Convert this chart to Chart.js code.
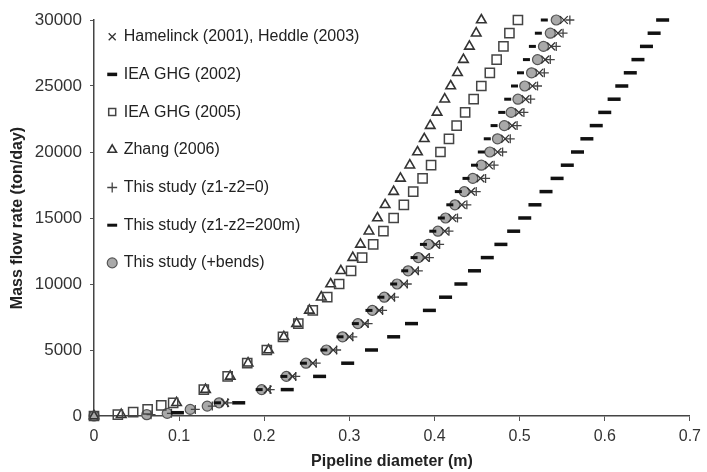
<!DOCTYPE html>
<html>
<head>
<meta charset="utf-8">
<script src="https://cdn.jsdelivr.net/npm/chart.js@4"></script>
<style>
  html, body { margin: 0; padding: 0; background: #fff; }
  #wrap { width: 707px; height: 472px; }
</style>
</head>
<body>
<div id="wrap"><canvas id="chartFlow"></canvas></div>
<script>
  // flow rate steps (ton/day) shared by most series
  const flowSteps = [1000, 2000, 3000, 4000, 5000, 6000, 7000, 8000, 9000, 10000,
    11000, 12000, 13000, 14000, 15000, 16000, 17000, 18000, 19000, 20000,
    21000, 22000, 23000, 24000, 25000, 26000, 27000, 28000, 29000, 30000];

  // pipeline diameter (m) read for each flow step
  const dHamelinck = [0.154, 0.204, 0.233, 0.257, 0.281, 0.300, 0.318, 0.335, 0.349, 0.364, 0.377, 0.389, 0.401, 0.412, 0.421, 0.432, 0.443, 0.454, 0.464, 0.474, 0.483, 0.491, 0.499, 0.507, 0.515, 0.523, 0.530, 0.537, 0.545, 0.552];
  const dIea2002 = [0.170, 0.227, 0.265, 0.298, 0.326, 0.352, 0.373, 0.394, 0.413, 0.431, 0.447, 0.462, 0.478, 0.493, 0.506, 0.518, 0.531, 0.544, 0.556, 0.568, 0.579, 0.590, 0.600, 0.611, 0.620, 0.630, 0.639, 0.649, 0.658, 0.668];
  const dIea2005 = [0.093, 0.129, 0.157, 0.180, 0.203, 0.222, 0.240, 0.257, 0.274, 0.288, 0.302, 0.315, 0.328, 0.340, 0.352, 0.364, 0.375, 0.386, 0.396, 0.407, 0.417, 0.426, 0.436, 0.446, 0.455, 0.465, 0.473, 0.481, 0.488, 0.498];
  const dZhang = [0.097, 0.131, 0.160, 0.181, 0.205, 0.223, 0.238, 0.253, 0.267, 0.278, 0.290, 0.304, 0.313, 0.323, 0.333, 0.342, 0.352, 0.360, 0.371, 0.380, 0.388, 0.395, 0.403, 0.412, 0.419, 0.427, 0.434, 0.441, 0.449, 0.455];
  const dStudyFlat = [0.157, 0.207, 0.237, 0.261, 0.285, 0.304, 0.322, 0.339, 0.353, 0.368, 0.381, 0.394, 0.406, 0.417, 0.427, 0.438, 0.449, 0.460, 0.470, 0.480, 0.489, 0.497, 0.505, 0.513, 0.521, 0.529, 0.536, 0.543, 0.551, 0.559];
  const dStudy200 = [0.145, 0.194, 0.223, 0.246, 0.270, 0.289, 0.307, 0.323, 0.337, 0.352, 0.365, 0.376, 0.387, 0.398, 0.408, 0.418, 0.428, 0.437, 0.447, 0.455, 0.462, 0.470, 0.479, 0.486, 0.494, 0.501, 0.508, 0.515, 0.522, 0.529];
  const dBends = [0.147, 0.197, 0.226, 0.249, 0.273, 0.292, 0.310, 0.327, 0.341, 0.356, 0.369, 0.381, 0.393, 0.404, 0.413, 0.424, 0.435, 0.445, 0.455, 0.465, 0.474, 0.482, 0.490, 0.498, 0.506, 0.514, 0.521, 0.528, 0.536, 0.543];

  // extra points below 1000 ton/day
  const lowFlowIea2002 = [250];
  const lowDIea2002 = [0.098];
  const lowFlowIea2005 = [0, 100, 300, 500, 800];
  const lowDIea2005 = [0, 0.028, 0.046, 0.063, 0.079];
  const lowFlowZhang = [0, 100];
  const lowDZhang = [0, 0.032];
  const lowFlowFlat = [100, 200, 500, 750];
  const lowDFlat = [0.067, 0.091, 0.119, 0.139];
  const lowFlowBends = [0, 100, 200, 500, 750];
  const lowDBends = [0, 0.062, 0.086, 0.113, 0.133];

  const seriesNames = ['Hamelinck (2001), Heddle (2003)', 'IEA GHG (2002)', 'IEA GHG (2005)',
    'Zhang (2006)', 'This study (z1-z2=0)', 'This study (z1-z2=200m)', 'This study (+bends)'];

  function pts(d, f) {
    return d.map((x, i) => ({x: x, y: f[i]}));
  }

  function marker(label, data, style, radius, color, fill, width) {
    return {
      label: label,
      data: data,
      showLine: false,
      clip: false,
      pointStyle: style,
      pointRadius: radius,
      pointHoverRadius: radius,
      borderColor: color,
      pointBorderColor: color,
      backgroundColor: fill,
      pointBackgroundColor: fill,
      borderWidth: width,
      pointBorderWidth: width
    };
  }

  const clear = 'rgba(255,255,255,0)';

  // the in-area legend starts at y=0, move it down under the top tick
  const legendNudge = {
    id: 'legendNudge',
    afterLayout(chart) {
      const lg = chart.legend;
      lg.top += 7; lg.bottom += 7;
      lg.left -= 7; lg.right -= 7;
    }
  };

  const ctx = document.getElementById('chartFlow');

  new Chart(ctx, {
    type: 'scatter',
    data: {
      datasets: [
        marker(seriesNames[0], pts(dHamelinck, flowSteps), 'crossRot', 5.5, '#333', clear, 1.3),
        marker(seriesNames[1], pts(lowDIea2002, lowFlowIea2002).concat(pts(dIea2002, flowSteps)), 'line', 6.5, '#111', '#111', 3.5),
        marker(seriesNames[2], pts(lowDIea2005, lowFlowIea2005).concat(pts(dIea2005, flowSteps)), 'rect', 6.5, '#444', clear, 1.5),
        marker(seriesNames[3], pts(lowDZhang, lowFlowZhang).concat(pts(dZhang, flowSteps)), 'triangle', 5.5, '#333', clear, 1.6),
        marker(seriesNames[4], pts(lowDFlat, lowFlowFlat).concat(pts(dStudyFlat, flowSteps)), 'cross', 4.5, '#444', clear, 1.3),
        marker(seriesNames[5], pts(dStudy200, flowSteps), 'line', 3.5, '#111', '#111', 3),
        marker(seriesNames[6], pts(lowDBends, lowFlowBends).concat(pts(dBends, flowSteps)), 'circle', 5, '#555', '#a9a9a9', 1.2)
      ]
    },
    plugins: [legendNudge],
    options: {
      responsive: true,
      maintainAspectRatio: false,
      animation: false,
      layout: { padding: { top: 20, right: 11, left: 0, bottom: 0 } },
      plugins: {
        tooltip: { enabled: false },
        legend: {
          position: 'chartArea',
          align: 'start',
          labels: {
            usePointStyle: true,
            boxWidth: 7,
            boxHeight: 7,
            padding: 21.7,
            color: '#222',
            font: { family: 'Liberation Sans', size: 16 }
          }
        }
      },
      scales: {
        x: {
          type: 'linear',
          min: 0,
          max: 0.7,
          afterFit(scale) { scale.height = 56; },
          border: { display: true, color: '#444', width: 1.5 },
          grid: { drawOnChartArea: false, drawTicks: true, tickLength: 5, color: '#555' },
          ticks: { stepSize: 0.1, padding: 6, color: '#333', font: { family: 'Liberation Sans', size: 16 } },
          title: { display: true, text: 'Pipeline diameter (m)', color: '#222', padding: { top: 0, bottom: 1 },
            font: { family: 'Liberation Sans', size: 16, weight: 'bold' } }
        },
        y: {
          min: 0,
          max: 30000,
          afterFit(scale) { scale.width = 94; },
          border: { display: true, color: '#444', width: 1.5 },
          grid: { drawOnChartArea: false, drawTicks: true, tickLength: 4, color: '#555' },
          ticks: { stepSize: 5000, padding: 8, color: '#333', font: { family: 'Liberation Sans', size: 17 },
            callback: v => String(v) },
          title: { display: true, text: 'Mass flow rate (ton/day)', color: '#222', padding: { top: 8, bottom: 0 },
            font: { family: 'Liberation Sans', size: 16, weight: 'bold' } }
        }
      }
    }
  });
</script>
</body>
</html>
